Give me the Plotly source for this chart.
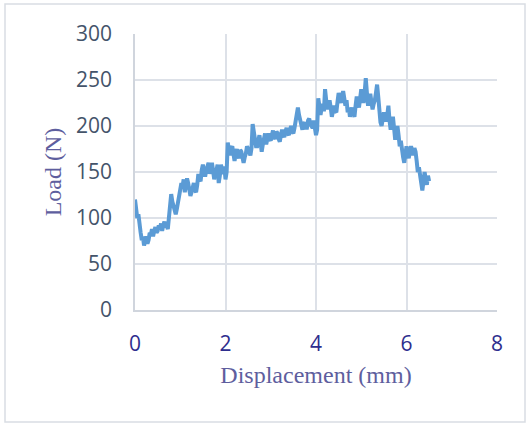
import plotly.graph_objects as go

displacement_mm = [
    0.000, 0.025, 0.050, 0.075, 0.100, 0.125, 0.150, 0.175,
    0.200, 0.225, 0.250, 0.275, 0.300, 0.325, 0.350, 0.375,
    0.400, 0.425, 0.450, 0.475, 0.500, 0.525, 0.550, 0.575,
    0.600, 0.625, 0.650, 0.675, 0.700, 0.725, 0.750, 0.775,
    0.800, 0.825, 0.850, 0.875, 0.900, 0.925, 0.950, 0.975,
    1.000, 1.025, 1.050, 1.075, 1.100, 1.125, 1.150, 1.175,
    1.200, 1.225, 1.250, 1.275, 1.300, 1.325, 1.350, 1.375,
    1.400, 1.425, 1.450, 1.475, 1.500, 1.525, 1.550, 1.575,
    1.600, 1.625, 1.650, 1.675, 1.700, 1.725, 1.750, 1.775,
    1.800, 1.825, 1.850, 1.875, 1.900, 1.925, 1.950, 1.975,
    2.000, 2.025, 2.050, 2.075, 2.100, 2.125, 2.150, 2.175,
    2.200, 2.225, 2.250, 2.275, 2.300, 2.325, 2.350, 2.375,
    2.400, 2.425, 2.450, 2.475, 2.500, 2.525, 2.550, 2.575,
    2.600, 2.625, 2.650, 2.675, 2.700, 2.725, 2.750, 2.775,
    2.800, 2.825, 2.850, 2.875, 2.900, 2.925, 2.950, 2.975,
    3.000, 3.025, 3.050, 3.075, 3.100, 3.125, 3.150, 3.175,
    3.200, 3.225, 3.250, 3.275, 3.300, 3.325, 3.350, 3.375,
    3.400, 3.425, 3.450, 3.475, 3.500, 3.525, 3.550, 3.575,
    3.600, 3.625, 3.650, 3.675, 3.700, 3.725, 3.750, 3.775,
    3.800, 3.825, 3.850, 3.875, 3.900, 3.925, 3.950, 3.975,
    4.000, 4.025, 4.050, 4.075, 4.100, 4.125, 4.150, 4.175,
    4.200, 4.225, 4.250, 4.275, 4.300, 4.325, 4.350, 4.375,
    4.400, 4.425, 4.450, 4.475, 4.500, 4.525, 4.550, 4.575,
    4.600, 4.625, 4.650, 4.675, 4.700, 4.725, 4.750, 4.775,
    4.800, 4.825, 4.850, 4.875, 4.900, 4.925, 4.950, 4.975,
    5.000, 5.025, 5.050, 5.075, 5.100, 5.125, 5.150, 5.175,
    5.200, 5.225, 5.250, 5.275, 5.300, 5.325, 5.350, 5.375,
    5.400, 5.425, 5.450, 5.475, 5.500, 5.525, 5.550, 5.575,
    5.600, 5.625, 5.650, 5.675, 5.700, 5.725, 5.750, 5.775,
    5.800, 5.825, 5.850, 5.875, 5.900, 5.925, 5.950, 5.975,
    6.000, 6.025, 6.050, 6.075, 6.100, 6.125, 6.150, 6.175,
    6.200, 6.225, 6.250, 6.275, 6.300, 6.325, 6.350, 6.375,
    6.400, 6.425, 6.450, 6.475, 6.500,
]

load_n = [
    120, 112, 100, 104, 90, 84, 76, 80,
    70, 76, 80, 72, 76, 84, 82, 88,
    80, 86, 90, 84, 86, 92, 88, 94,
    86, 92, 96, 90, 92, 88, 102, 112,
    126, 118, 112, 106, 104, 110, 118, 126,
    130, 138, 134, 142, 128, 136, 143, 138,
    132, 124, 128, 134, 138, 130, 128, 136,
    148, 142, 140, 152, 158, 150, 145, 152,
    155, 160, 148, 154, 160, 152, 142, 150,
    152, 158, 138, 146, 158, 152, 148, 156,
    142, 150, 182, 174, 168, 176, 178, 170,
    162, 170, 175, 168, 165, 174, 172, 166,
    160, 166, 170, 178, 176, 172, 168, 176,
    202, 192, 185, 178, 178, 188, 190, 182,
    172, 180, 186, 192, 180, 188, 192, 186,
    184, 190, 195, 188, 186, 194, 192, 186,
    183, 190, 196, 190, 188, 194, 198, 192,
    190, 196, 200, 194, 192, 198, 204, 210,
    220, 212, 205, 200, 196, 202, 204, 198,
    198, 206, 208, 202, 200, 198, 206, 200,
    190, 196, 230, 222, 212, 220, 224, 216,
    240, 228, 218, 224, 228, 220, 210, 216,
    222, 216, 215, 226, 236, 230, 225, 232,
    238, 230, 222, 228, 215, 220, 210, 216,
    220, 214, 210, 222, 232, 226, 220, 230,
    240, 232, 225, 236, 252, 236, 222, 230,
    235, 226, 218, 224, 228, 236, 245, 232,
    212, 204, 200, 208, 215, 210, 205, 212,
    222, 206, 196, 204, 210, 198, 185, 194,
    200, 190, 178, 184, 172, 166, 160, 170,
    178, 170, 165, 172, 178, 174, 168, 176,
    172, 162, 150, 155, 145, 138, 130, 140,
    150, 142, 136, 146, 140,
]

x_ticks = [0, 2, 4, 6, 8]
y_ticks = [0, 50, 100, 150, 200, 250, 300]

fig = go.Figure()
fig.add_trace(go.Scatter(
    x=displacement_mm, y=load_n, mode="lines",
    line=dict(color="#5b9bd5", width=4),
    showlegend=False,
))

grid_c = "#dde1e8"
fig.update_layout(
    width=526, height=425,
    margin=dict(l=135, r=29, t=34, b=115),
    paper_bgcolor="white", plot_bgcolor="white",
    xaxis=dict(
        range=[0, 8], tickvals=x_ticks, showgrid=True, gridcolor=grid_c, gridwidth=1.5,
        showline=True, linecolor="#d0d5dd", linewidth=1.5, zeroline=False,
        ticks="", ticklabelstandoff=14,
        tickfont=dict(family="Open Sans", size=21, color="#2e2e8e"),
        title=dict(text="Displacement (mm)", standoff=10,
                   font=dict(family="Liberation Serif", size=24, color="#5e5e9e")),
    ),
    yaxis=dict(
        range=[0, 300], tickvals=y_ticks, showgrid=True, gridcolor=grid_c, gridwidth=1.5,
        showline=True, linecolor="#d0d5dd", linewidth=1.5, zeroline=False,
        ticks="", ticklabelstandoff=17,
        tickfont=dict(family="Open Sans", size=21, color="#44546a"),
        title=dict(text="Load (N)", standoff=8,
                   font=dict(family="Liberation Serif", size=24, color="#5e5e9e")),
    ),
    shapes=[dict(type="rect", xref="paper", yref="paper",
                 x0=-130/362, x1=390/362, y0=-112/276, y1=306/276,
                 line=dict(color="#d9dde3", width=1.5), layer="below")],
)

fig.write_html("out.html")
